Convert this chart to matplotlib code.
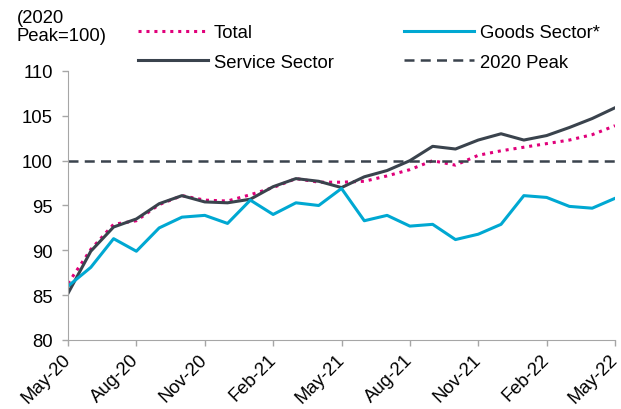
import numpy as np
import matplotlib.pyplot as plt
import pandas as pd

plt.rcParams['font.family'] = ['Liberation Sans', 'DejaVu Sans']

# monthly index, 2020 peak = 100
months = pd.date_range('2020-05-01', '2022-05-01', freq='MS')
total = [86.3, 90.1, 92.9, 93.3, 95.1, 96.1, 95.6, 95.5, 96.2, 97.0, 98.0, 97.6, 97.6,
         97.7, 98.3, 99.0, 100.0, 99.5, 100.6, 101.1, 101.5, 101.9, 102.3, 102.9, 103.9]
goods = [86.0, 88.1, 91.3, 89.9, 92.5, 93.7, 93.9, 93.0, 95.6, 94.0, 95.3, 95.0, 96.9,
         93.3, 93.9, 92.7, 92.9, 91.2, 91.8, 92.9, 96.1, 95.9, 94.9, 94.7, 95.8]
service = [85.2, 89.9, 92.6, 93.5, 95.2, 96.1, 95.4, 95.3, 95.7, 97.1, 98.0, 97.7, 97.0,
           98.2, 98.9, 100.0, 101.6, 101.3, 102.3, 103.0, 102.3, 102.8, 103.7, 104.7, 105.9]
peak = 100
tick_labels = ['May-20', 'Aug-20', 'Nov-20', 'Feb-21', 'May-21', 'Aug-21', 'Nov-21', 'Feb-22', 'May-22']

x = np.arange(len(months))
fs = 13.3

fig = plt.figure(figsize=(6.21, 4.1), dpi=100)
ax = fig.add_axes([68 / 621, 69 / 410, 547 / 621, 269 / 410])

ax.plot(x, total, color='#E0007A', linestyle=(0, (1, 1.6)), linewidth=2.2, label='Total')
ax.plot(x, service, color='#3A434D', linewidth=2.2, label='Service Sector')
ax.plot(x, goods, color='#00A8D2', linewidth=2.2, label='Goods Sector*')
ax.axhline(peak, color='#3A434D', linestyle=(0, (4, 2.5)), linewidth=1.8, label='2020 Peak')

ax.set_xlim(0, len(months) - 1)
ax.set_ylim(80, 110)
ax.set_yticks(np.arange(80, 111, 5))
ax.set_xticks(x[::3])
ax.set_xticklabels(tick_labels, rotation=45, ha='right', va='center', rotation_mode='anchor')
ax.tick_params(labelsize=fs, color='#A6A6A6', length=4, width=1)
ax.tick_params(axis='y', pad=7)
ax.tick_params(axis='x', pad=8)

for s in ['top', 'right']:
    ax.spines[s].set_visible(False)
for s in ['left', 'bottom']:
    ax.spines[s].set_color('#A6A6A6')

fig.text(17 / 621, 1 - 10 / 410, '(2020\nPeak=100)', ha='left', va='top', fontsize=fs, linespacing=1.05)

fig.legend(loc='upper left', bbox_to_anchor=(138 / 621, 1 - 25 / 410), ncol=2, frameon=False,
           fontsize=fs, handlelength=3.8, handletextpad=0.3, columnspacing=3.8,
           labelspacing=0.7, borderpad=0, borderaxespad=0)

fig.savefig('out.png', dpi=100)
